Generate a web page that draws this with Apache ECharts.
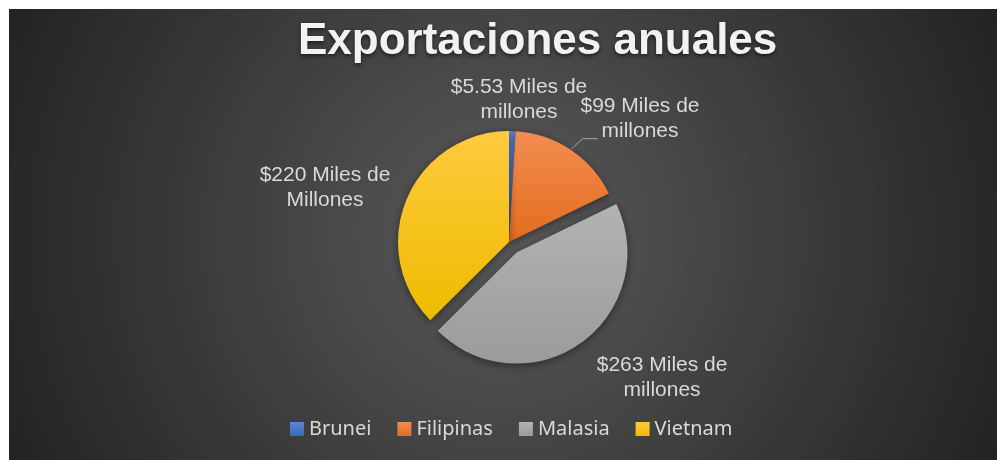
<!DOCTYPE html>
<html>
<head>
<meta charset="utf-8">
<script src="https://cdn.jsdelivr.net/npm/echarts@6/dist/echarts.min.js"></script>
<style>
  html, body { margin: 0; padding: 0; background: #ffffff; }
  #chart { position: absolute; left: 9px; top: 9px; width: 988px; height: 451px; }
</style>
</head>
<body>
<div id="chart"></div>
<script>
// data
const countries = ['Brunei', 'Filipinas', 'Malasia', 'Vietnam'];
const exportValues = [5.53, 99, 263, 220];
const unitWords = ['millones', 'millones', 'millones', 'Millones'];
const explodedSlice = 'Malasia';

// styles
const sliceColors = [
    ['#5a86d6', '#3c68b8'],
    ['#f28d52', '#e46c1c'],
    ['#b3b3b3', '#9b9b9b'],
    ['#ffca3e', '#eebb00']
];
// fixed spots for the unexploded slices' labels (the exploded one keeps the select-state layout)
const labelSpots = [[510, 91], [631, 110], null, [316, 179]];

const chart = echarts.init(document.getElementById('chart'));

const pieData = countries.map((name, i) => ({
    name: name,
    value: exportValues[i],
    selected: name === explodedSlice,
    itemStyle: {
        color: new echarts.graphic.LinearGradient(0, 0, 0, 1, [
            { offset: 0, color: sliceColors[i][0] },
            { offset: 1, color: sliceColors[i][1] }
        ])
    },
    labelLine: name === explodedSlice
        ? { show: false, length: 42, length2: 52 }
        : { show: name === 'Filipinas' }
}));

chart.setOption({
    animation: false,
    backgroundColor: new echarts.graphic.RadialGradient(0.5, 0.5, 1.2, [
        { offset: 0, color: '#5a5a5a' },
        { offset: 1, color: '#232323' }
    ]),
    title: {
        text: 'Exportaciones anuales',
        left: 284,
        top: 6,
        textStyle: {
            fontFamily: 'Liberation Sans',
            fontSize: 44,
            fontWeight: 'bold',
            color: '#f2f2f2',
            textShadowColor: 'rgba(0,0,0,0.6)',
            textShadowBlur: 4,
            textShadowOffsetY: 2
        }
    },
    legend: {
        bottom: 16,
        left: 276,
        itemWidth: 14,
        itemHeight: 14,
        itemGap: 26,
        icon: 'rect',
        textStyle: {
            fontFamily: 'Noto Sans',
            fontSize: 20,
            color: '#d9d9d9'
        },
        data: countries
    },
    series: [
        {
            type: 'pie',
            center: [500, 233],
            radius: 111,
            startAngle: 90,
            clockwise: true,
            selectedMode: 'single',
            selectedOffset: 13,
            avoidLabelOverlap: false,
            itemStyle: {
                shadowBlur: 8,
                shadowColor: 'rgba(0,0,0,0.45)',
                shadowOffsetY: 2
            },
            emphasis: { disabled: true },
            label: {
                show: true,
                position: 'outside',
                fontFamily: 'Liberation Sans',
                fontSize: 21,
                lineHeight: 25,
                color: '#d9d9d9',
                align: 'center',
                formatter: (p) => '$' + p.value + ' Miles de\n' + unitWords[p.dataIndex]
            },
            labelLine: {
                show: false,
                lineStyle: { color: '#a6a6a6', width: 1 }
            },
            labelLayout: (p) => {
                const spot = labelSpots[p.dataIndex];
                if (!spot) return { align: 'center' };
                const out = { x: spot[0], y: spot[1], align: 'center', verticalAlign: 'middle' };
                if (countries[p.dataIndex] === 'Filipinas' && p.labelLinePoints) {
                    // leader: short diagonal off the slice edge, then a flat run
                    const a = p.labelLinePoints[0];
                    out.labelLinePoints = [a, [a[0] + 12, a[1] - 11], [a[0] + 27, a[1] - 11]];
                }
                return out;
            },
            data: pieData
        }
    ]
});
</script>
</body>
</html>
